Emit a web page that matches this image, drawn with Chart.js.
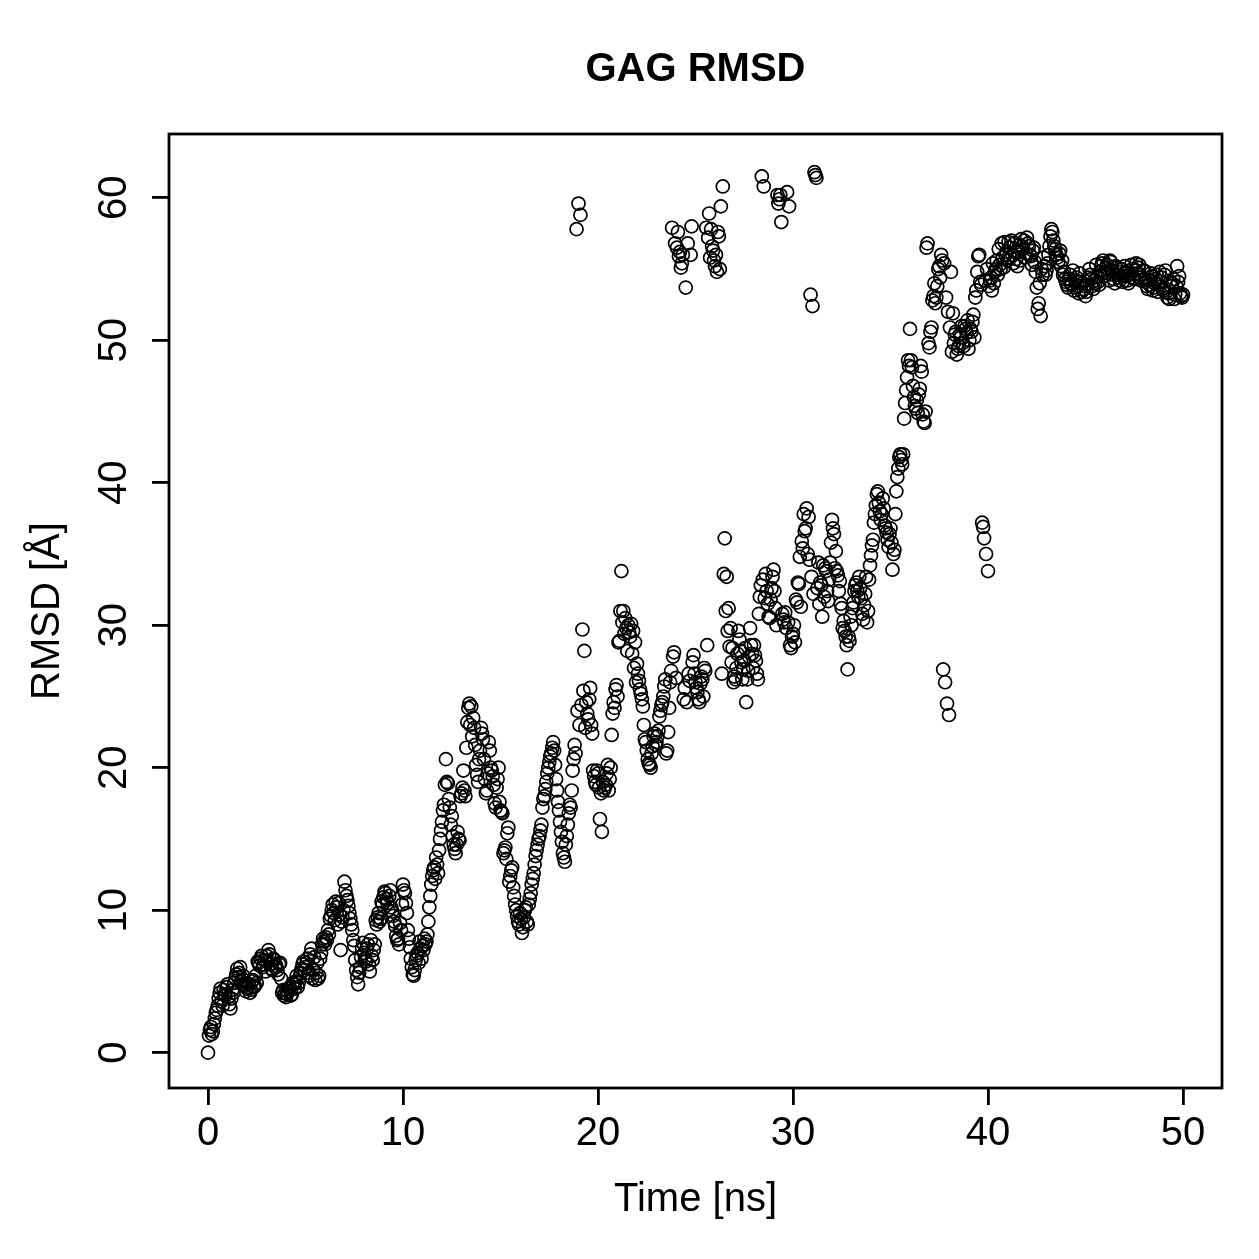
<!DOCTYPE html>
<html>
<head>
<meta charset="utf-8">
<script src="https://cdn.jsdelivr.net/npm/chart.js"></script>
<style>
  html, body { margin: 0; background: #fff; }
  canvas { display: block; }
</style>
</head>
<body>
<canvas id="rmsdChart" width="1259" height="1259"></canvas>
<script>
// frames every 0.05 ns, kept as two interleaved lists:
// the "a" lists are at 0.0, 0.1, 0.2 ... ns, the "b" lists at 0.05, 0.15 ... ns
const frameStep = 0.1

const rmsdA0to10 = [
  0.0, 1.6, 1.3, 2.0, 2.8, 3.3, 4.2, 3.6, 4.4, 4.0,
  4.8, 3.4, 3.8, 4.2, 5.2, 5.9, 5.6, 5.0, 5.4, 4.7,
  4.5, 4.8, 4.4, 5.1, 4.7, 4.9, 6.3, 6.6, 6.0, 6.5,
  6.8, 7.2, 6.2, 5.8, 6.5, 6.1, 5.5, 6.3, 4.2, 4.0,
  3.9, 4.3, 4.6, 4.1, 4.8, 5.0, 4.6, 5.3, 5.9, 6.4,
  6.0, 6.6, 5.4, 7.3, 5.8, 5.1, 6.3, 5.4, 7.0, 8.0,
  7.6, 7.9, 8.3, 9.6, 10.4, 9.3, 10.2, 10.5, 7.2, 9.5,
  12.0, 11.0, 10.3, 9.4, 8.6, 7.5, 5.8, 4.8, 6.0, 7.3,
  7.0, 6.4, 7.6, 5.7, 6.8, 7.2, 9.3, 9.5, 9.2, 10.6,
  10.9, 11.2, 10.5, 11.0, 10.2, 9.6, 8.9, 7.9, 7.6, 8.6
]
const rmsdB0to10 = [
  1.2, 1.8, 1.5, 2.4, 3.0, 3.8, 4.5, 3.3, 4.1, 4.6,
  3.9, 3.1, 4.4, 4.9, 5.5, 5.3, 6.0, 4.8, 5.1, 4.3,
  4.6, 4.2, 5.0, 4.6, 5.4, 6.4, 6.1, 6.8, 6.2, 5.7,
  6.4, 6.9, 5.9, 6.6, 6.0, 5.8, 6.2, 5.2, 4.4, 4.2,
  4.1, 4.5, 4.0, 4.9, 4.5, 5.4, 4.9, 5.6, 6.2, 5.8,
  6.3, 5.6, 6.9, 5.2, 6.7, 5.6, 5.2, 6.6, 7.6, 7.8,
  8.1, 8.6, 9.4, 10.0, 9.8, 10.6, 9.0, 9.7, 9.2, 10.0,
  11.4, 10.7, 9.8, 9.0, 7.9, 6.5, 5.3, 5.6, 6.7, 7.7,
  6.6, 7.3, 6.2, 7.9, 6.5, 7.6, 9.0, 9.8, 9.4, 10.4,
  11.3, 10.8, 10.0, 11.4, 9.9, 9.2, 8.2, 8.0, 9.1, 10.4
]
const rmsdA10to20 = [
  11.8, 11.2, 9.8, 8.0, 6.6, 5.5, 5.8, 6.8, 6.3, 7.3,
  7.5, 8.0, 7.8, 9.2, 11.0, 12.4, 13.0, 13.7, 12.6, 15.0,
  16.2, 17.4, 20.6, 18.9, 17.2, 16.6, 14.6, 14.0, 15.5, 14.9,
  18.2, 19.8, 18.0, 23.2, 24.5, 24.3, 23.5, 21.6, 19.5, 20.6,
  22.8, 22.0, 19.2, 18.4, 21.8, 20.0, 19.4, 17.5, 18.6, 20.0,
  17.0, 16.8, 14.2, 13.6, 15.8, 12.4, 13.0, 11.0, 10.0, 9.2,
  9.8, 8.4, 9.5, 10.2, 9.0, 10.8, 11.8, 12.6, 13.8, 14.6,
  15.2, 16.0, 17.8, 18.5, 19.6, 20.4, 21.0, 21.8, 20.2, 18.4,
  17.0, 15.5, 14.0, 13.4, 15.2, 16.8, 17.2, 19.8, 21.6, 57.8,
  59.6, 58.8, 29.7, 28.2, 24.6, 23.4, 25.6, 22.4, 19.4, 18.8
]
const rmsdB10to20 = [
  11.4, 10.5, 8.6, 7.4, 6.0, 5.4, 6.5, 7.0, 7.8, 6.6,
  7.2, 7.6, 8.3, 10.2, 11.8, 12.8, 12.2, 13.2, 14.2, 15.6,
  17.0, 18.8, 19.0, 17.8, 16.0, 15.2, 14.3, 14.6, 15.0, 18.0,
  18.6, 18.4, 21.4, 24.2, 23.0, 22.2, 22.8, 20.2, 19.0, 21.2,
  22.4, 20.6, 18.2, 19.6, 21.2, 19.8, 18.8, 17.2, 19.2, 17.6,
  16.9, 14.0, 14.4, 15.4, 12.0, 12.8, 11.6, 10.4, 9.6, 9.0,
  9.4, 8.8, 10.0, 9.2, 10.4, 11.2, 12.2, 13.2, 14.2, 15.0,
  15.6, 17.2, 18.0, 19.0, 20.0, 20.8, 21.4, 21.2, 19.2, 17.6,
  16.2, 14.8, 13.7, 14.6, 16.0, 17.4, 18.4, 20.6, 21.0, 24.0,
  23.0, 24.4, 25.4, 22.8, 23.8, 24.8, 23.0, 19.8, 19.0, 19.8
]
const rmsdA20to30 = [
  19.6, 16.4, 15.5, 18.4, 18.8, 20.2, 19.2, 22.3, 24.6, 25.5,
  25.0, 28.9, 33.8, 31.0, 30.5, 28.2, 29.5, 30.1, 29.6, 28.8,
  27.3, 26.1, 25.2, 24.3, 22.0, 21.2, 20.3, 20.0, 21.5, 22.4,
  21.8, 22.6, 24.0, 24.6, 25.7, 21.0, 22.5, 26.0, 57.9, 28.1,
  26.3, 57.6, 56.2, 55.4, 24.8, 53.7, 56.8, 26.1, 58.0, 27.9,
  26.0, 25.3, 24.6, 26.4, 25.0, 26.8, 28.6, 58.9, 57.8, 56.3,
  55.2, 54.8, 57.3, 59.4, 60.8, 36.1, 33.4, 31.2, 29.8, 28.4,
  26.4, 27.0, 29.6, 28.2, 26.2, 27.5, 24.6, 26.8, 29.8, 28.0,
  28.6, 27.5, 26.2, 32.0, 61.5, 60.8, 33.6, 31.5, 30.5, 32.6,
  33.9, 31.2, 60.2, 59.9, 58.3, 30.4, 30.9, 60.4, 59.4, 28.4
]
const rmsdB20to30 = [
  18.6, 18.2, 19.0, 18.6, 19.6, 18.4, 20.0, 23.8, 24.2, 25.8,
  28.8, 31.0, 30.2, 29.4, 29.8, 30.0, 29.2, 28.0, 27.0, 26.0,
  26.6, 25.5, 24.8, 23.0, 21.8, 20.6, 20.2, 21.0, 22.2, 21.6,
  22.2, 23.6, 24.4, 25.0, 26.2, 21.2, 24.2, 26.8, 27.8, 56.8,
  56.5, 55.9, 55.1, 56.0, 25.6, 24.6, 26.6, 56.0, 27.4, 26.6,
  25.6, 24.8, 25.9, 26.2, 27.0, 57.9, 57.2, 55.8, 56.6, 55.6,
  56.0, 57.6, 55.0, 26.6, 33.6, 31.0, 29.6, 28.5, 27.4, 26.0,
  26.2, 28.0, 29.0, 27.4, 26.9, 28.4, 26.2, 27.8, 28.6, 27.0,
  27.9, 26.6, 30.8, 32.8, 33.2, 31.9, 32.4, 30.6, 31.8, 33.4,
  32.4, 30.0, 59.6, 60.2, 30.8, 30.2, 29.8, 30.2, 28.6, 29.2
]
const rmsdA30to40 = [
  29.4, 28.8, 31.6, 32.9, 31.3, 35.4, 36.6, 38.2, 37.6, 53.2,
  52.4, 61.8, 61.4, 34.4, 33.0, 30.6, 32.0, 33.8, 31.7, 34.4,
  37.4, 36.4, 35.2, 33.5, 33.1, 31.2, 30.3, 29.2, 26.9, 28.9,
  30.0, 31.6, 32.8, 32.4, 33.4, 31.9, 30.4, 32.2, 30.2, 33.2,
  34.9, 36.0, 37.8, 39.2, 38.6, 37.4, 38.9, 37.0, 36.5, 35.5,
  36.8, 33.9, 35.3, 39.4, 41.0, 42.0, 41.3, 44.5, 46.5, 48.6,
  50.8, 48.1, 46.0, 45.2, 44.9, 46.6, 47.8, 44.3, 45.0, 56.8,
  49.5, 50.9, 53.1, 52.6, 53.8, 55.2, 56.0, 26.9, 26.0, 24.5,
  23.7, 54.8, 51.9, 50.4, 49.0, 49.6, 50.2, 49.8, 51.0, 50.5,
  49.4, 50.8, 51.3, 50.2, 53.5, 55.9, 54.1, 37.2, 36.1, 35.0
]
const rmsdB30to40 = [
  30.0, 31.8, 33.0, 34.8, 35.9, 37.8, 36.8, 35.0, 34.6, 33.4,
  32.2, 61.6, 32.6, 31.5, 32.8, 34.2, 34.0, 32.4, 33.2, 35.8,
  36.8, 34.0, 33.8, 32.4, 31.5, 29.8, 29.6, 28.6, 29.2, 30.6,
  31.2, 32.4, 33.0, 32.0, 32.6, 30.8, 31.4, 33.4, 31.0, 34.2,
  35.6, 37.2, 38.4, 39.4, 38.0, 37.8, 38.2, 36.8, 36.0, 36.4,
  35.8, 35.0, 37.8, 40.4, 41.8, 41.6, 42.0, 45.6, 47.4, 48.2,
  48.6, 46.8, 45.4, 45.8, 46.2, 48.2, 44.8, 44.2, 56.5, 49.8,
  50.6, 52.8, 54.0, 53.0, 55.0, 54.4, 55.6, 55.4, 53.0, 52.0,
  50.9, 49.2, 49.8, 50.6, 49.4, 50.4, 51.0, 49.6, 50.8, 51.4,
  50.0, 50.6, 51.8, 53.0, 54.8, 56.0, 53.9, 36.9, 54.2, 55.0
]
const rmsdA40to50 = [
  33.8, 54.2, 53.5, 54.0, 55.0, 54.6, 55.3, 56.8, 55.1, 56.0,
  55.6, 56.5, 57.0, 55.4, 56.2, 55.2, 56.7, 57.1, 56.4, 55.8,
  57.2, 56.6, 55.9, 56.3, 55.5, 53.7, 52.6, 51.7, 54.6, 55.2,
  54.9, 56.0, 57.3, 57.6, 56.6, 56.0, 55.5, 56.3, 55.6, 54.8,
  54.1, 53.7, 54.6, 53.9, 53.5, 54.2, 53.8, 54.7, 53.4, 53.6,
  53.1, 53.9, 55.0, 54.3, 53.6, 54.0, 54.5, 53.9, 55.2, 55.6,
  54.8, 55.3, 54.2, 55.5, 54.6, 54.0, 55.1, 54.4, 54.8, 54.1,
  55.2, 54.5, 54.0, 54.7, 55.0, 54.3, 55.4, 55.1, 54.6, 54.2,
  54.9, 54.1, 53.6, 53.9, 54.5, 53.7, 54.3, 53.4, 54.8, 54.4,
  53.5, 54.9, 53.0, 52.9, 53.8, 54.3, 53.2, 55.2, 54.5, 53.1,
  53.2
]
const rmsdB40to50 = [
  53.8, 54.4, 55.4, 54.8, 55.6, 56.4, 55.0, 55.8, 56.9, 56.2,
  56.9, 55.8, 56.0, 56.8, 55.7, 56.2, 55.6, 56.6, 57.0, 56.1,
  56.8, 56.0, 55.3, 56.5, 54.8, 52.2, 54.0, 55.0, 55.8, 54.6,
  55.4, 56.6, 57.8, 57.0, 56.4, 55.8, 56.1, 55.2, 54.6, 54.3,
  53.9, 54.3, 54.0, 54.9, 53.7, 54.4, 53.3, 54.1, 54.0, 53.8,
  53.4, 54.4, 54.6, 53.8, 54.2, 55.3, 54.1, 54.8, 55.4, 54.5,
  55.1, 54.7, 55.6, 54.9, 54.3, 55.2, 54.6, 54.2, 55.0, 54.5,
  54.8, 54.2, 54.6, 55.3, 54.4, 54.9, 54.7, 55.3, 54.2, 54.9,
  54.3, 53.8, 54.2, 54.7, 53.5, 54.0, 54.6, 53.9, 54.1, 53.6,
  54.6, 53.4, 53.3, 54.1, 54.0, 52.9, 53.8, 54.1, 53.3, 53.0
]

const xTicks = [0, 10, 20, 30, 40, 50]
const yTicks = [0, 10, 20, 30, 40, 50, 60]

const rmsdA = [].concat(rmsdA0to10, rmsdA10to20, rmsdA20to30, rmsdA30to40, rmsdA40to50)
const rmsdB = [].concat(rmsdB0to10, rmsdB10to20, rmsdB20to30, rmsdB30to40, rmsdB40to50)

const points = []
rmsdA.forEach(function (v, i) {
  points.push({ x: Math.round(i * frameStep * 100) / 100, y: v })
  if (i < rmsdB.length) {
    points.push({ x: Math.round((i * frameStep + frameStep / 2) * 100) / 100, y: rmsdB[i] })
  }
})

Chart.defaults.font.family = "'Liberation Sans', Arial, sans-serif"
Chart.defaults.color = "#000"

// frame around the plot region, like R's box()
const boxPlugin = {
  id: "box",
  afterDraw(chart) {
    const a = chart.chartArea
    const ctx = chart.ctx
    ctx.save()
    ctx.strokeStyle = "#000"
    ctx.lineWidth = 2.8
    ctx.strokeRect(a.left, a.top, a.right - a.left, a.bottom - a.top)
    ctx.restore()
  }
}

// y tick labels written parallel to the axis
const yLabelPlugin = {
  id: "yLabels",
  afterDraw(chart) {
    const s = chart.scales.y
    const ctx = chart.ctx
    ctx.save()
    ctx.fillStyle = "#000"
    ctx.font = "40px 'Liberation Sans', Arial, sans-serif"
    ctx.textAlign = "center"
    ctx.textBaseline = "middle"
    s.ticks.forEach(function (t) {
      const py = s.getPixelForValue(t.value)
      ctx.save()
      ctx.translate(115, py)
      ctx.rotate(-Math.PI / 2)
      ctx.fillText(String(t.value), 0, 0)
      ctx.restore()
    })
    ctx.restore()
  }
}

new Chart(document.getElementById("rmsdChart"), {
  type: "scatter",
  data: {
    datasets: [{
      data: points,
      pointStyle: "circle",
      pointRadius: 6.5,
      pointBorderWidth: 1.7,
      pointBorderColor: "#000",
      pointBackgroundColor: "rgba(0,0,0,0)"
    }]
  },
  options: {
    responsive: false,
    animation: false,
    devicePixelRatio: 1,
    layout: { padding: { left: 0, right: 37, top: 0, bottom: 0 } },
    plugins: {
      legend: { display: false },
      tooltip: { enabled: false },
      title: {
        display: true,
        fullSize: false,
        text: "GAG RMSD",
        color: "#000",
        font: { size: 40, weight: "bold", lineHeight: 1.2 },
        padding: { top: 46, bottom: 40 }
      }
    },
    scales: {
      x: {
        type: "linear",
        min: -2,
        max: 52,
        afterBuildTicks(s) { s.ticks = xTicks.map(function (v) { return { value: v } }) },
        afterFit(s) { s.height = 171 },
        grid: { drawOnChartArea: false, tickLength: 17, lineWidth: 2.8, color: "#000" },
        border: { display: false },
        ticks: { font: { size: 40, lineHeight: 1.2 }, padding: 5, color: "#000", maxRotation: 0 },
        title: {
          display: true,
          text: "Time [ns]",
          color: "#000",
          font: { size: 40, lineHeight: 1.2 },
          padding: { top: 0, bottom: 35 }
        }
      },
      y: {
        type: "linear",
        min: -2.48,
        max: 64.48,
        afterBuildTicks(s) { s.ticks = yTicks.map(function (v) { return { value: v } }) },
        afterFit(s) { s.width = 169 },
        grid: { drawOnChartArea: false, tickLength: 17, lineWidth: 2.8, color: "#000" },
        border: { display: false },
        ticks: { display: false },
        title: {
          display: true,
          text: "RMSD [Å]",
          color: "#000",
          font: { size: 40, lineHeight: 1.2 },
          padding: { top: 24, bottom: 0 }
        }
      }
    }
  },
  plugins: [boxPlugin, yLabelPlugin]
})
</script>
</body>
</html>
